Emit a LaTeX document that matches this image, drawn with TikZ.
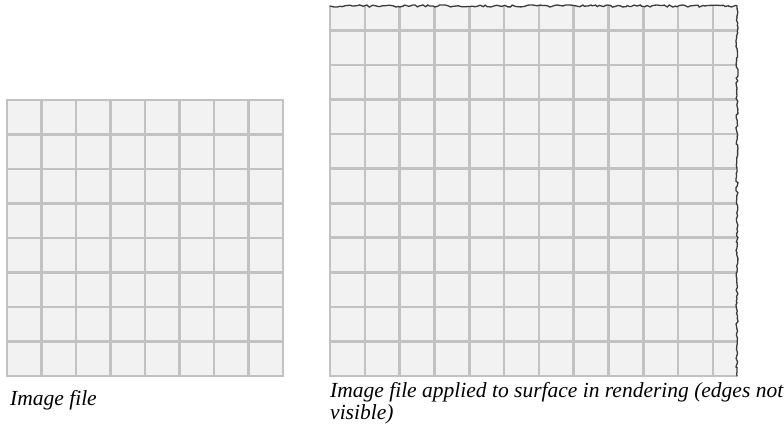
\documentclass[tikz,border=0pt]{standalone}
\usepackage{fontspec}
\setmainfont{Liberation Serif}
\usepackage{tikz}
\usetikzlibrary{decorations.pathmorphing}
\definecolor{tilegray}{HTML}{F2F2F2}
\definecolor{groutgray}{HTML}{C2C2C2}
\definecolor{edgegray}{HTML}{3A3A3A}

\begin{document}
\begin{tikzpicture}[x=1pt,y=-1pt,
  tile/.style={fill=tilegray,draw=groutgray,line width=2.6pt},
  torn/.style={draw=edgegray,line width=1.3pt,line cap=round,decorate,
    decoration={random steps,segment length=2.5pt,amplitude=1.1pt}},
  caption/.style={font=\itshape\fontsize{21.5}{22}\selectfont,anchor=base west,
    inner sep=0pt,align=left}]
\useasboundingbox (0,0) rectangle (784,445);
% image file: 8 x 8 tiles
\foreach \i in {0,...,7}
  \foreach \j in {0,...,7}
    \draw[tile] (7+34.5*\i,100+34.5*\j) rectangle +(34.5,34.5);
% rendered surface: tiles cut off at top and right
\begin{scope}
  \clip (330,6) rectangle (737,376);
  \foreach \i in {0,...,11}
    \foreach \j in {-1,...,9}
      \draw[tile] (330+34.8*\i,30.4+34.56*\j) rectangle +(34.8,34.56);
\end{scope}
\draw[groutgray,line width=2.6pt] (330,6) -- (330,376) -- (737,376);
\draw[torn] (330,6) -- (737,6) -- (737,376);
% captions (base is the last line)
\node[caption] (capleft) at (10,405) {Image file};
\node[caption] (capright) at (330,419)
  {Image file applied to surface in rendering (edges not\\visible)};
\end{tikzpicture}
\end{document}
